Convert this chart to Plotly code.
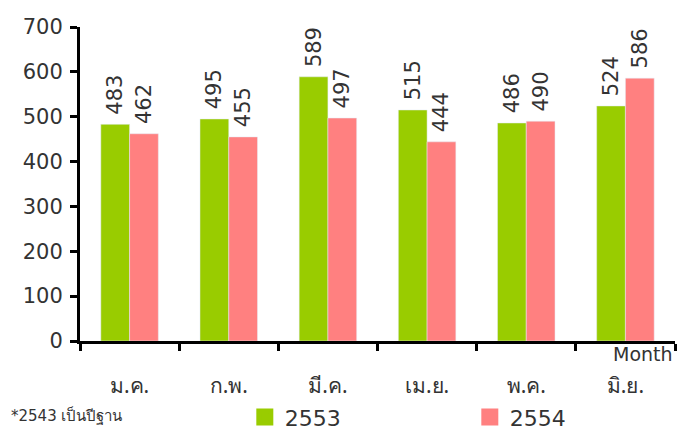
import plotly.graph_objects as go

months = ["ม.ค.", "ก.พ.", "มี.ค.", "เม.ย.", "พ.ค.", "มิ.ย."]
v2553 = [483, 495, 589, 515, 486, 524]
v2554 = [462, 455, 497, 444, 490, 586]
series_names = ["2553", "2554"]
colors = ["#99CC00", "#FF8080"]

L, R, T, B = 80, 7, 27, 90
W, H = 682, 431
TXT = "#333333"

fig = go.Figure()
for name, vals, col in zip(series_names, [v2553, v2554], colors):
    fig.add_trace(go.Bar(
        x=months, y=vals, name=name, marker_color=col, showlegend=False,
        text=["\u00a0" + str(v) for v in vals], textposition="outside", textangle=-90,
        textfont=dict(size=21, color=TXT, family="DejaVu Sans"),
        constraintext="none", cliponaxis=False,
    ))
# legend-only entries with larger swatches (on a hidden overlaying axis)
for name, col in zip(series_names, colors):
    fig.add_trace(go.Bar(
        x=[months[0]], y=[None], name=name, xaxis="x2",
        marker=dict(color=col, line=dict(color=col, width=6)),
        showlegend=True, hoverinfo="skip",
    ))

fig.update_layout(
    width=W, height=H, margin=dict(l=L, r=R, t=T, b=B, autoexpand=False),
    plot_bgcolor="white", paper_bgcolor="white",
    barmode="group", bargap=0.42, bargroupgap=0,
    font=dict(family="DejaVu Sans", color=TXT),
    xaxis=dict(type="category", tickson="boundaries",
               ticks="outside", ticklen=7, tickwidth=3, tickcolor="black",
               showline=True, linecolor="black", linewidth=3, automargin=False,
               showgrid=False, zeroline=False, ticklabelstandoff=24,
               tickfont=dict(size=21, color=TXT, family="Noto Sans, DejaVu Sans")),
    xaxis2=dict(type="category", overlaying="x", visible=False, anchor="y"),
    yaxis=dict(range=[0, 700], dtick=100, ticks="outside", ticklen=7,
               tickwidth=3, tickcolor="black", showline=True, linecolor="black",
               linewidth=3, showgrid=False, zeroline=False, automargin=False,
               ticklabelstandoff=3,
               tickfont=dict(size=21, color=TXT)),
    legend=dict(orientation="h", x=0.277, y=-0.176, xanchor="left", yanchor="top",
                entrywidth=180, entrywidthmode="pixels",
                font=dict(size=22, color=TXT)),
    showlegend=True,
)
fig.add_annotation(text="Month", xref="paper", yref="paper", x=1.0, y=0.0,
                   xanchor="right", yanchor="top", showarrow=False,
                   font=dict(size=19, color=TXT))
fig.add_annotation(text="*2543 เป็นปีฐาน", xref="paper", yref="paper",
                   x=-0.12, y=-0.2, xanchor="left", yanchor="top",
                   showarrow=False, font=dict(size=15, color=TXT))
fig.write_html("out.html", config={"displayModeBar": False},
               post_script="document.body.style.margin='0';document.body.style.overflow='hidden';")
